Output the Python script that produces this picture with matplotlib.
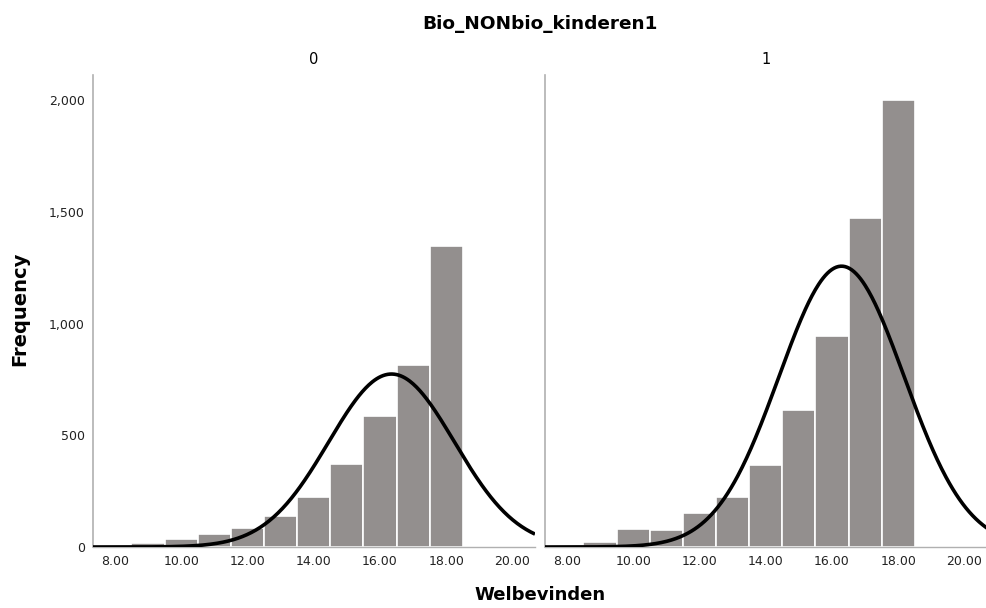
import numpy as np
import matplotlib
matplotlib.use("Agg")
import matplotlib.pyplot as plt
from matplotlib.ticker import FuncFormatter

# Data
bin_centers = [8, 9, 10, 11, 12, 13, 14, 15, 16, 17, 18]
counts_0 = [3, 19, 37, 60, 84, 140, 225, 371, 586, 814, 1347]
counts_1 = [2, 24, 79, 76, 151, 225, 367, 613, 944, 1472, 2000]
panel_labels = ["0", "1"]
mean_0, sd_0 = 16.35, 1.90
mean_1, sd_1 = 16.29, 1.89
x_ticks = [8, 10, 12, 14, 16, 18, 20]
y_ticks = [0, 500, 1000, 1500, 2000]

plt.rcParams['font.family'] = ['DejaVu Sans']
fig = plt.figure(figsize=(9.87, 6.08), dpi=100)

W, H = 987, 608
bottom = 1 - 547 / H
height = (547 - 75) / H
ax0 = fig.add_axes([93 / W, bottom, 442 / W, height])
ax1 = fig.add_axes([545 / W, bottom, 442 / W, height])

bar_color = '#938f8e'
spine_color = '#b0b0b0'

for ax, counts, mu, sd, lab in [(ax0, counts_0, mean_0, sd_0, panel_labels[0]),
                                (ax1, counts_1, mean_1, sd_1, panel_labels[1])]:
    ax.bar(bin_centers, counts, width=1.0, color=bar_color, edgecolor='white', linewidth=1.2, zorder=2)
    n = sum(counts)
    xs = np.linspace(7.34, 20.68, 400)
    ys = n * 1.0 / (sd * np.sqrt(2 * np.pi)) * np.exp(-0.5 * ((xs - mu) / sd) ** 2)
    ax.plot(xs, ys, color='black', linewidth=2.6, zorder=3, solid_capstyle='butt')
    ax.set_xlim(7.34, 20.68)
    ax.set_ylim(0, 2112)
    ax.set_xticks(x_ticks)
    ax.set_xticklabels([f"{t:.2f}" for t in x_ticks], fontsize=9, color='#222222')
    ax.set_yticks(y_ticks)
    ax.yaxis.set_major_formatter(FuncFormatter(lambda v, p: f"{int(v):,}"))
    ax.tick_params(axis='both', length=0, labelsize=9, colors='#222222', pad=6)
    for s in ['top', 'right']:
        ax.spines[s].set_visible(False)
    ax.spines['left'].set_color(spine_color)
    ax.spines['bottom'].set_color(spine_color)
    ax.spines['left'].set_linewidth(1.2)
    ax.spines['bottom'].set_linewidth(1.0)
    ax.set_title(lab, fontsize=10.5, pad=8)

ax1.tick_params(axis='y', labelleft=False)

fig.text(540 / W, 1 - 24 / H, "Bio_NONbio_kinderen1", ha='center', va='center',
         fontsize=13.3, fontweight='bold')
fig.text(540 / W, 1 - 595 / H, "Welbevinden", ha='center', va='center',
         fontsize=13, fontweight='bold')
fig.text(20 / W, 1 - 309 / H, "Frequency", ha='center', va='center',
         fontsize=14, fontweight='bold', rotation=90)

fig.savefig("out.png", dpi=100)
